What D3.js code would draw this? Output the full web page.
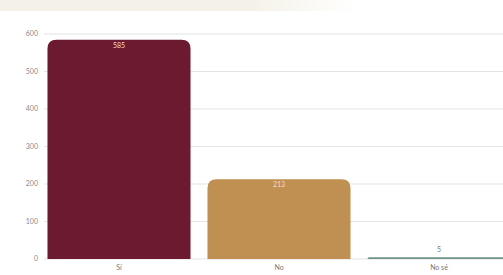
<!DOCTYPE html>
<html><head><meta charset="utf-8">
<script src="https://cdn.jsdelivr.net/npm/d3@7"></script>
<style>body{margin:0;background:#fff}svg{display:block}</style>
</head><body>
<svg id="c" width="503" height="275"></svg>
<script>
const categories = ["Sí", "No", "No sé"];
const values = [585, 213, 5];
const yTicks = [0, 100, 200, 300, 400, 500, 600];
const colors = ["#6c1a2f", "#c08f52", "#6f9283"];

const svg = d3.select("#c");
const W = 503, H = 275;
// cream band at top
const defs = svg.append("defs");
const g1 = defs.append("linearGradient").attr("id","band").attr("x1",0).attr("x2",1);
g1.append("stop").attr("offset","0%").attr("stop-color","#f4f2e8");
g1.append("stop").attr("offset","70%").attr("stop-color","#f4f2e8");
g1.append("stop").attr("offset","100%").attr("stop-color","#ffffff");
svg.append("rect").attr("x",0).attr("y",0).attr("width",360).attr("height",11).attr("fill","url(#band)");

const x = d3.scaleBand().domain(categories).range([39, 519]).paddingInner(0.106).paddingOuter(0.053);
const y = d3.scaleLinear().domain([0, 600]).range([259, 34]);

// grid
svg.append("g").selectAll("line").data(yTicks).join("line")
  .attr("x1", 44).attr("x2", W).attr("y1", d => y(d)).attr("y2", d => y(d))
  .attr("stroke", "#e4e4e4").attr("stroke-width", 1.2);

// y tick labels
svg.append("g").selectAll("text").data(yTicks).join("text")
  .attr("x", 38).attr("y", d => y(d)).attr("dy", "0.35em")
  .attr("text-anchor", "end").attr("font-family", "Lato, sans-serif")
  .attr("font-size", 7).attr("fill", "#8a8a8a").text(d => d);

// bars with rounded top
function barPath(x0, y0, w, h, r) {
  r = Math.min(r, h, w/2);
  return `M${x0},${y0+h}V${y0+r}Q${x0},${y0} ${x0+r},${y0}H${x0+w-r}Q${x0+w},${y0} ${x0+w},${y0+r}V${y0+h}Z`;
}
const data = categories.map((c, i) => ({c, v: values[i], col: colors[i]}));
svg.append("g").selectAll("path").data(data).join("path")
  .attr("d", d => barPath(x(d.c), y(d.v), x.bandwidth(), y(0) - y(d.v), 9))
  .attr("fill", d => d.col);

// value labels
svg.append("g").selectAll("text").data(data).join("text")
  .attr("x", d => x(d.c) + x.bandwidth()/2)
  .attr("y", d => d.v > 50 ? y(d.v) + 8 : y(d.v) - 5)
  .attr("text-anchor", "middle").attr("font-family", "Lato, sans-serif")
  .attr("font-size", 7).attr("fill", d => d.v > 50 ? "#f3d9dd" : "#777")
  .text(d => d.v);

// x labels
svg.append("g").selectAll("text").data(categories).join("text")
  .attr("x", d => x(d) + x.bandwidth()/2).attr("y", 270)
  .attr("text-anchor", "middle").attr("font-family", "Lato, sans-serif")
  .attr("font-size", 7).attr("fill", "#777").text(d => d);
</script>
</body></html>
